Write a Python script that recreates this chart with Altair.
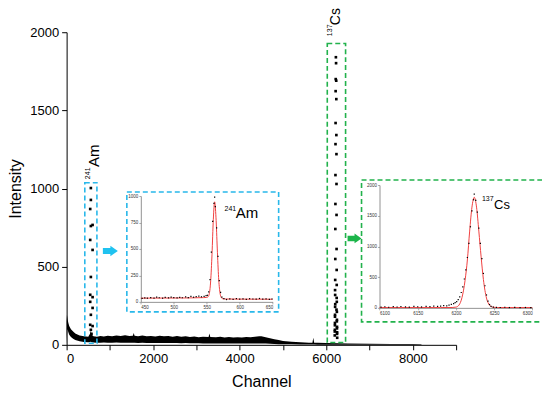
import altair as alt
import pandas as pd

# ---------------- main spectrum (band of dense points) ----------------
band_ch = [0, 8, 15, 25, 40, 60, 100, 150, 200, 300, 400, 500, 540, 560, 580, 620, 700, 780, 860, 950,
           1050, 1150, 1250, 1350, 1450, 1530, 1550, 1570, 1650, 1750, 1850, 1950, 2050, 2150, 2250, 2350,
           2450, 2550, 2650, 2750, 2850, 2950, 3050, 3150, 3280, 3300, 3320, 3450, 3550, 3650, 3750, 3850,
           3950, 4050, 4150, 4250, 4350, 4450, 4500, 4600, 4700, 4800, 4900, 5000, 5200, 5400, 5600, 5680,
           5700, 5720, 5800, 6000, 6300, 6500, 7000, 7500, 8000, 8200]
band_hi = [150, 190, 180, 160, 140, 120, 100, 85, 72, 60, 54, 52, 70, 90, 65, 55, 52, 57, 53, 58,
           55, 60, 56, 61, 57, 58, 76, 58, 55, 60, 54, 57, 53, 58, 54, 56,
           52, 56, 51, 54, 50, 53, 49, 52, 50, 72, 50, 48, 51, 47, 50, 46,
           49, 47, 50, 48, 52, 54, 54, 48, 42, 36, 30, 25, 20, 16, 14, 14,
           45, 14, 13, 12, 10, 9, 7, 6, 5, 3]
band_lo = [0, 60, 100, 95, 80, 65, 50, 38, 30, 22, 18, 16, 18, 20, 17, 15, 14, 14, 15, 14,
           14, 15, 14, 13, 14, 13, 13, 13, 12, 13, 12, 12, 12, 11, 12, 11,
           11, 11, 10, 11, 10, 10, 10, 9, 9, 9, 9, 9, 9, 8, 9, 8,
           8, 8, 8, 9, 9, 9, 9, 8, 7, 5, 4, 4, 3, 2, 2, 2,
           2, 2, 1, 1, 1, 1, 0, 0, 0, 0]

# main 241Am peak points
am_main_ch = [560, 560, 545, 600, 560, 545, 600, 560, 545, 600, 545, 600, 560, 545, 600, 560, 575]
am_main_ct = [1003, 927, 869, 767, 760, 671, 607, 434, 320, 305, 275, 236, 192, 128, 120, 96, 70]

# main 137Cs peak points
cs_main_ch = [6222, 6226, 6218, 6230, 6216, 6232, 6215, 6233, 6213, 6235, 6212, 6236, 6211, 6237, 6209, 6238,
              6208, 6240, 6206, 6241, 6205, 6243, 6204, 6245, 6202, 6246, 6200, 6248, 6198, 6250, 6196, 6252,
              6203, 6240, 6207, 6236, 6201, 6244, 6199, 6247, 6197, 6249]
cs_main_ct = [1840, 1802, 1700, 1690, 1623, 1572, 1419, 1342, 1284, 1220, 1086, 1029, 901, 831, 741, 613,
              549, 479, 415, 383, 319, 275, 243, 211, 192, 160, 140, 115, 96, 80, 60, 45,
              350, 300, 260, 225, 180, 150, 125, 105, 85, 70]

# regions of interest (channel / intensity)
roi_x1 = [420, 6023]
roi_x2 = [700, 6446]
roi_y1 = [10, 15]
roi_y2 = [1037, 1928]
roi_col = ["#29b8ea", "#22b24c"]

# ---------------- inset 241Am ----------------
am_ch = [452, 456, 460, 465, 470, 474, 478, 483, 487, 492, 496, 500, 505, 509, 513, 518, 522, 526, 530, 534,
         538, 542, 546, 549, 551, 553, 555, 557, 559, 561, 562, 563, 565, 567, 569, 571, 573, 576, 580, 585,
         590, 595, 600, 605, 610, 615, 620, 625, 630, 635, 640, 645, 649]
am_ct = [32, 38, 35, 41, 36, 44, 39, 35, 42, 38, 45, 40, 37, 43, 39, 47, 41, 52, 44, 49,
         55, 48, 52, 58, 62, 95, 210, 470, 760, 930, 990, 900, 700, 430, 200, 90, 45, 30, 22, 28,
         24, 31, 26, 29, 23, 30, 27, 25, 32, 26, 29, 24, 27]
am_fit_ch = [450, 520, 545, 550, 552, 554, 556, 558, 560, 562, 564, 566, 568, 570, 572, 574, 578, 600, 650]
am_fit = [35, 37, 40, 42, 48, 80, 200, 450, 780, 945, 800, 500, 230, 90, 42, 30, 27, 26, 25]

# ---------------- inset 137Cs ----------------
cs_ch = [6102, 6107, 6112, 6118, 6123, 6128, 6134, 6139, 6145, 6150, 6155, 6161, 6166, 6171, 6176, 6180,
         6184, 6188, 6191, 6194, 6197, 6199, 6201, 6203, 6205, 6207, 6209, 6211, 6213, 6215, 6217, 6219,
         6221, 6223, 6224, 6226, 6228, 6230, 6232, 6234, 6236, 6238, 6240, 6242, 6244, 6246, 6249, 6253,
         6258, 6264, 6270, 6277, 6284, 6291, 6298]
cs_ct = [12, 18, 10, 20, 14, 22, 16, 12, 24, 18, 15, 26, 20, 28, 24, 30,
         35, 32, 45, 55, 70, 85, 100, 135, 180, 250, 340, 470, 620, 820, 1050, 1320,
         1580, 1760, 1850, 1750, 1560, 1300, 1050, 800, 560, 360, 210, 110, 55, 25, 12, 8,
         6, 10, 5, 8, 4, 6, 5]
cs_fit_ch = [6100, 6180, 6195, 6200, 6204, 6208, 6212, 6215, 6218, 6221, 6224, 6227, 6230, 6233, 6236,
             6240, 6244, 6248, 6255, 6300]
cs_fit = [5, 5, 6, 12, 45, 170, 450, 780, 1250, 1640, 1800, 1640, 1250, 830, 460, 160, 45, 12, 5, 5]

FONT = "Liberation Sans"
W, H = 390, 313

# ---------------- main layer ----------------
xs_main = alt.Scale(domain=[0, 9000], nice=False, zero=False)
ys_main = alt.Scale(domain=[0, 2000], nice=False, zero=False)
x_axis = alt.Axis(values=list(range(0, 9001, 1000)), labelExpr="datum.value % 2000 == 0 ? datum.label : ''",
                  format="d", tickSize=5, grid=False, domainColor="black", tickColor="black",
                  labelFontSize=13, labelColor="black", titleFontSize=16, titleFontWeight="normal",
                  titleColor="black", titlePadding=8, labelPadding=3, orient="bottom")
y_axis = alt.Axis(values=list(range(0, 2001, 250)), labelExpr="datum.value % 500 == 0 ? datum.label : ''",
                  format="d", tickSize=5, grid=False, domainColor="black", tickColor="black",
                  labelFontSize=13, labelColor="black", titleFontSize=16, titleFontWeight="normal",
                  titleColor="black", titlePadding=6, labelPadding=3, orient="left")

band_df = pd.DataFrame({"ch": band_ch, "hi": band_hi, "lo": band_lo})
band = alt.Chart(band_df).mark_area(color="black", opacity=1).encode(
    x=alt.X("ch:Q", scale=xs_main, axis=x_axis, title="Channel"),
    y=alt.Y("lo:Q", scale=ys_main, axis=y_axis, title="Intensity"),
    y2="hi:Q",
)
am_main = alt.Chart(pd.DataFrame({"ch": am_main_ch, "ct": am_main_ct})).mark_square(
    size=7, color="black", opacity=1).encode(x="ch:Q", y="ct:Q")
cs_main = alt.Chart(pd.DataFrame({"ch": cs_main_ch, "ct": cs_main_ct})).mark_square(
    size=7, color="black", opacity=1).encode(x="ch:Q", y="ct:Q")

roi_df = pd.DataFrame({"x1": roi_x1, "x2": roi_x2, "y1": roi_y1, "y2": roi_y2, "c": roi_col})
roi = alt.Chart(roi_df).mark_rect(fill=None, strokeWidth=1.6, strokeDash=[5, 3], filled=False).encode(
    x="x1:Q", x2="x2:Q", y="y1:Q", y2="y2:Q", stroke=alt.Stroke("c:N", scale=None))

lab_df = pd.DataFrame({
    "x": [630, 492, 6215, 6077],
    "y": [1137, 1060, 2045, 1975],
    "t": ["Am", "241", "Cs", "137"],
    "s": [15, 7, 14, 7],
})
main_labels = alt.Chart(lab_df).mark_text(angle=270, align="left", baseline="middle", font=FONT,
                                          color="black").encode(
    x="x:Q", y="y:Q", text="t:N", size=alt.Size("s:Q", scale=None))

one = pd.DataFrame({"a": [0]})
arrow_path = "M-1,-0.4 L0,-0.4 L0,-0.7 L1,0 L0,0.7 L0,0.4 L-1,0.4 Z"
arrow_b = alt.Chart(one).mark_point(shape=arrow_path, filled=True, size=225, color="#1fc2f0",
                                    opacity=1, strokeWidth=0).encode(
    x=alt.value(43.8), y=alt.value(219))
arrow_g = alt.Chart(one).mark_point(shape=arrow_path, filled=True, size=196, color="#1cb54a",
                                    opacity=1, strokeWidth=0).encode(
    x=alt.value(288.3), y=alt.value(206.5))
frame_b = alt.Chart(one).mark_rect(filled=False, fill=None, stroke="#29b8ea", strokeWidth=1.6,
                                   strokeDash=[5, 3]).encode(
    x=alt.value(60.3), x2=alt.value(212.3), y=alt.value(160), y2=alt.value(280))
frame_g = alt.Chart(one).mark_rect(filled=False, fill=None, stroke="#22b24c", strokeWidth=1.6,
                                   strokeDash=[5, 3]).encode(
    x=alt.value(295.3), x2=alt.value(477.3), y=alt.value(148), y2=alt.value(290))

main = alt.layer(band, am_main, cs_main, roi, main_labels, arrow_b, arrow_g, frame_b, frame_g)

# ---------------- inset helpers ----------------
def inset_axis(orient, values, offset):
    return alt.Axis(orient=orient, values=values, offset=offset, format="d", grid=False, tickSize=2,
                    labelFontSize=4.5, labelColor="#333", domainColor="#777", tickColor="#777",
                    labelPadding=1, title=None, domainWidth=0.8, tickWidth=0.6)

# 241Am inset
xs_b = alt.Scale(domain=[450, 650], range=[74.3, 206.3], nice=False, zero=False)
ys_b = alt.Scale(domain=[0, 1000], range=[270, 164], nice=False, zero=False)
b_pts = alt.Chart(pd.DataFrame({"ch": am_ch, "ct": am_ct})).mark_square(size=1.5, color="black",
                                                                          opacity=1).encode(
    x=alt.X("ch:Q", scale=xs_b, axis=inset_axis("bottom", [450, 500, 550, 600, 650], -43)),
    y=alt.Y("ct:Q", scale=ys_b, axis=inset_axis("left", [0, 250, 500, 750, 1000], -74.3)),
)
b_fit = alt.Chart(pd.DataFrame({"ch": am_fit_ch, "ct": am_fit})).mark_line(
    color="#f04040", strokeWidth=1, interpolate="monotone").encode(x="ch:Q", y="ct:Q")
b_lab = alt.Chart(pd.DataFrame({"x": [577, 594], "y": [858, 792], "t": ["241", "Am"], "s": [7, 15]})).mark_text(
    align="left", baseline="alphabetic", font=FONT, color="black").encode(
    x="x:Q", y="y:Q", text="t:N", size=alt.Size("s:Q", scale=None))
inset_b = alt.layer(b_fit, b_pts, b_lab)

# 137Cs inset
xs_g = alt.Scale(domain=[6100, 6300], range=[313.3, 466.3], nice=False, zero=False)
ys_g = alt.Scale(domain=[0, 2000], range=[276, 153], nice=False, zero=False)
g_pts = alt.Chart(pd.DataFrame({"ch": cs_ch, "ct": cs_ct})).mark_square(size=1.5, color="black",
                                                                          opacity=1).encode(
    x=alt.X("ch:Q", scale=xs_g, axis=inset_axis("bottom", [6100, 6150, 6200, 6250, 6300], -37)),
    y=alt.Y("ct:Q", scale=ys_g, axis=inset_axis("left", [0, 500, 1000, 1500, 2000], -313.3)),
)
g_fit = alt.Chart(pd.DataFrame({"ch": cs_fit_ch, "ct": cs_fit})).mark_line(
    color="#f04040", strokeWidth=1, interpolate="monotone").encode(x="ch:Q", y="ct:Q")
g_lab = alt.Chart(pd.DataFrame({"x": [6234, 6250], "y": [1740, 1610], "t": ["137", "Cs"], "s": [7, 13]})).mark_text(
    align="left", baseline="alphabetic", font=FONT, color="black").encode(
    x="x:Q", y="y:Q", text="t:N", size=alt.Size("s:Q", scale=None))
inset_g = alt.layer(g_fit, g_pts, g_lab)

chart = alt.layer(main, inset_b, inset_g).resolve_scale(
    x="independent", y="independent"
).properties(
    width=W, height=H,
    autosize=alt.AutoSizeParams(type="none"),
    padding={"left": 58.7, "top": 24, "right": 86, "bottom": 52},
).configure(font=FONT).configure_view(strokeWidth=0, stroke=None)

chart.save("out.html", embed_options={"renderer": "svg", "actions": False})
